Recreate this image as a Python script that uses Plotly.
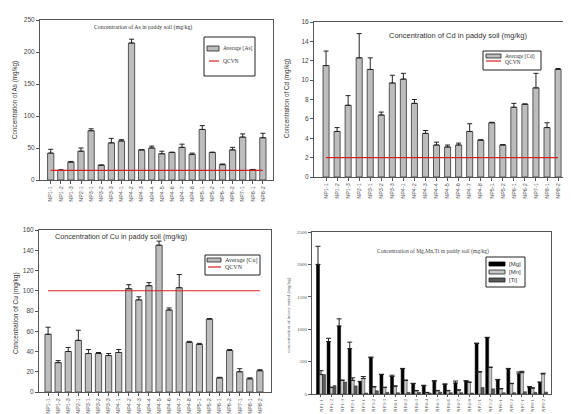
import plotly.graph_objects as go

sites = ["NP1-1", "NP1-2", "NP1-3", "NP2-1", "NP3-1", "NP3-2", "NP3-3", "NP4-1", "NP4-2",
         "NP4-3", "NP4-4", "NP4-5", "NP4-6", "NP4-7", "NP4-8", "NP5-1", "NP5-2", "NP6-1",
         "NP6-2", "NP7-1", "NP8-1", "NP8-2"]

as_vals = [42, 15, 28, 45, 77, 23, 58, 61, 214, 47, 50, 41, 43, 51, 40, 79, 43, 24, 47, 67, 16, 66]
as_err = [6, 1, 1, 5, 3, 0.5, 7, 2, 6, 0.5, 3, 4, 0.5, 5, 2, 6, 0.5, 1, 4, 5, 0.5, 7]
as_qcvn = 15

cd_vals = [11.5, 4.7, 7.4, 12.3, 11.1, 6.4, 9.7, 10.1, 7.6, 4.5, 3.3, 3.1, 3.3, 4.7, 3.8,
           5.6, 3.3, 7.2, 7.5, 9.2, 5.1, 11.1]
cd_err = [1.5, 0.4, 1.0, 2.5, 1.2, 0.3, 0.8, 0.6, 0.4, 0.3, 0.3, 0.2, 0.2, 0.8, 0.05,
          0.05, 0.05, 0.4, 0.05, 1.5, 0.5, 0.1]
cd_qcvn = 2

cu_vals = [57, 29, 40, 51, 38, 38, 36, 39, 102, 91, 105, 145, 81, 103, 49, 47, 72, 14, 41, 20, 13, 21]
cu_err = [7, 2, 4, 10, 4, 1, 2, 3, 4, 3, 3, 4, 2, 13, 1, 1, 0.5, 0.5, 1, 3, 1, 1]
cu_qcvn = 100

mg_vals = [2000, 810, 1050, 700, 190, 560, 300, 270, 390, 160, 130, 200, 150, 170, 200,
           780, 870, 220, 390, 310, 110, 180]
mg_err = [280, 50, 110, 100, 5, 10, 5, 20, 5, 5, 5, 5, 5, 30, 5, 5, 5, 5, 5, 30, 5, 5]
mn_vals = [300, 100, 210, 210, 240, 110, 100, 120, 210, 50, 20, 50, 50, 60, 180,
           340, 410, 80, 160, 330, 90, 310]
mn_err = [60, 5, 5, 40, 30, 5, 5, 5, 5, 5, 5, 5, 5, 5, 5, 5, 5, 5, 5, 20, 5, 10]
ti_vals = [300, 130, 185, 125, 15, 50, 25, 20, 25, 25, 15, 30, 20, 20, 15,
           100, 80, 20, 20, 35, 25, 30]

W, H = 571, 414


def px_x(a, b):
    return [a / W, b / W]


def px_y(top, bottom):
    return [1 - bottom / H, 1 - top / H]


def PX(x):
    return x / W


def PY(y):
    return 1 - y / H


fig = go.Figure()

bar_gray = "#BDBDBD"
edge = "#333333"
red = "#D62020"


def err(arr, thick=1):
    return dict(type="data", array=arr, arrayminus=[0] * len(arr), symmetric=False,
                color="#222222", thickness=thick, width=2.5)


# Panel 1 As
fig.add_trace(go.Bar(x=sites, y=as_vals, error_y=err(as_err), marker=dict(color=bar_gray, line=dict(color=edge, width=0.8)),
                     name="Average [As]", xaxis="x", yaxis="y", width=0.62))
fig.add_trace(go.Scatter(x=sites, y=[as_qcvn] * len(sites), mode="lines", line=dict(color=red, width=1.2),
                         name="QCVN", xaxis="x", yaxis="y"))
# Panel 2 Cd
fig.add_trace(go.Bar(x=sites, y=cd_vals, error_y=err(cd_err), marker=dict(color=bar_gray, line=dict(color=edge, width=0.8)),
                     name="Average [Cd]", xaxis="x2", yaxis="y2", width=0.55))
fig.add_trace(go.Scatter(x=sites, y=[cd_qcvn] * len(sites), mode="lines", line=dict(color=red, width=1.2),
                         name="QCVN", xaxis="x2", yaxis="y2"))
# Panel 3 Cu
fig.add_trace(go.Bar(x=sites, y=cu_vals, error_y=err(cu_err), marker=dict(color=bar_gray, line=dict(color=edge, width=0.8)),
                     name="Average [Cu]", xaxis="x3", yaxis="y3", width=0.62))
fig.add_trace(go.Scatter(x=sites, y=[cu_qcvn] * len(sites), mode="lines", line=dict(color=red, width=1.2),
                         name="QCVN", xaxis="x3", yaxis="y3"))
# Panel 4 Mg Mn Ti
fig.add_trace(go.Bar(x=sites, y=mg_vals, error_y=err(mg_err), marker=dict(color="#000000", line=dict(color="#000000", width=0.5)),
                     name="[Mg]", xaxis="x4", yaxis="y4"))
fig.add_trace(go.Bar(x=sites, y=mn_vals, error_y=err(mn_err), marker=dict(color="#C8C8C8", line=dict(color="#222222", width=0.5)),
                     name="[Mn]", xaxis="x4", yaxis="y4"))
fig.add_trace(go.Bar(x=sites, y=ti_vals, marker=dict(color="#5A5A5A", line=dict(color="#222222", width=0.5)),
                     name="[Ti]", xaxis="x4", yaxis="y4"))

tickfont = dict(family="Liberation Sans", size=6.5, color="#444444")
axis_common = dict(showline=True, linecolor="#555555", linewidth=1, mirror=True, ticks="outside",
                   ticklen=3, tickcolor="#555555", showgrid=False, zeroline=False, tickfont=tickfont,
                   automargin=False)
xcommon = dict(axis_common, tickangle=-90, tickfont=dict(family="Liberation Sans", size=5.5, color="#555555"))

shapes = []
annotations = []


def ann(text, x, y, size, family="Liberation Sans", color="#333333", xanchor="center", angle=0):
    annotations.append(dict(text=text, xref="paper", yref="paper", x=PX(x), y=PY(y), showarrow=False,
                            xanchor=xanchor, yanchor="middle", textangle=angle,
                            font=dict(family=family, size=size, color=color)))


def rect(x0, y0, x1, y1, fill, line="#222222", lw=0.8):
    shapes.append(dict(type="rect", xref="paper", yref="paper", x0=PX(x0), x1=PX(x1), y0=PY(y1), y1=PY(y0),
                       fillcolor=fill, line=dict(color=line, width=lw)))


def hline(x0, x1, y, color, lw=1.2):
    shapes.append(dict(type="line", xref="paper", yref="paper", x0=PX(x0), x1=PX(x1), y0=PY(y), y1=PY(y),
                       line=dict(color=color, width=lw)))


# Legend 1 (As)
rect(196, 29, 247, 68, "white", "#222222", 1)
rect(199, 38, 211, 43, bar_gray)
ann("Average [As]", 213, 40.5, 5.5, "Liberation Serif", xanchor="left")
hline(201, 211, 53, red)
ann("QCVN", 213, 53, 5.5, "Liberation Serif", xanchor="left")

# Legend 2 (Cd)
rect(475, 43, 533, 62, "white", "#222222", 1)
rect(478, 46, 493, 50, bar_gray)
ann("Average [Cd]", 495, 48, 5.5, "Liberation Serif", xanchor="left")
hline(478, 493, 53, red)
ann("QCVN", 495, 53.5, 5.5, "Liberation Serif", xanchor="left")

# Legend 3 (Cu)
rect(197, 247, 252, 267, "white", "#222222", 1)
rect(199, 250, 213, 254, bar_gray)
ann("Average [Cu]", 215, 252, 6, "Liberation Serif", xanchor="left")
hline(200, 213, 259, red)
ann("QCVN", 215, 259, 6, "Liberation Serif", xanchor="left")

# Legend 4 (Mg Mn Ti)
rect(478, 249, 517, 279, "white", "#222222", 1)
rect(481, 254, 497, 258, "#000000", "#000000")
ann("[Mg]", 499, 256, 6, "Liberation Sans", xanchor="left")
rect(481, 262, 497, 266, "#C8C8C8")
ann("[Mn]", 499, 264, 6, "Liberation Sans", xanchor="left")
rect(481, 270, 497, 274, "#5A5A5A")
ann("[Ti]", 499, 272, 6, "Liberation Sans", xanchor="left")

# Titles
ann("Concentration of As in paddy soil (mg/kg)", 135, 20, 5.8, "Liberation Serif")
ann("Concentration of Cd in paddy soil (mg/kg)", 450, 28, 7.5, "Liberation Sans")
ann("Concentration of Cu in paddy soil (mg/kg)", 45, 228, 7.2, "Liberation Sans", xanchor="left")
ann("Concentration of Mg,Mn,Ti in paddy soil (mg/kg)", 425, 243, 5.6, "Liberation Serif", color="#444444")

# Y axis titles
ann("Concentration of As (mg/kg)", 7, 92, 6.3, angle=-90)
ann("Concentration of Cd (mg/kg)", 279, 91, 6.3, angle=-90)
ann("Concentration of Cu (mg/kg)", 8, 305, 6.5, angle=-90)
ann("concentration of heavy metal (mg/kg)", 280, 307, 5, "Liberation Serif", color="#555555", angle=-90)

fig.update_layout(
    width=W, height=H, margin=dict(l=0, r=0, t=0, b=0), template="none", showlegend=False,
    paper_bgcolor="white", plot_bgcolor="white", barmode="group", bargap=0.15, bargroupgap=0,
    xaxis=dict(xcommon, domain=px_x(32, 265), anchor="y", range=[-1.06, 22.0]),
    yaxis=dict(axis_common, domain=px_y(12, 172), range=[0, 250], dtick=50, anchor="x"),
    xaxis2=dict(xcommon, domain=px_x(306, 560), anchor="y2", range=[-1.09, 21.9]),
    yaxis2=dict(axis_common, domain=px_y(14, 169), range=[0, 16], dtick=2, anchor="x2"),
    xaxis3=dict(xcommon, domain=px_x(31, 263), anchor="y3", range=[-0.9, 22.1]),
    yaxis3=dict(axis_common, domain=px_y(222, 384), range=[0, 160], dtick=20, anchor="x3"),
    xaxis4=dict(xcommon, domain=px_x(304, 543), anchor="y4", range=[-0.85, 21.75], ticklen=2,
                tickfont=dict(family="Liberation Serif", size=5, color="#555555")),
    yaxis4=dict(axis_common, domain=px_y(224, 386), range=[0, 2500], dtick=500, anchor="x4",
                tickfont=dict(family="Liberation Serif", size=5, color="#555555")),
    shapes=shapes,
    annotations=annotations,
)

fig.write_html("out.html")
